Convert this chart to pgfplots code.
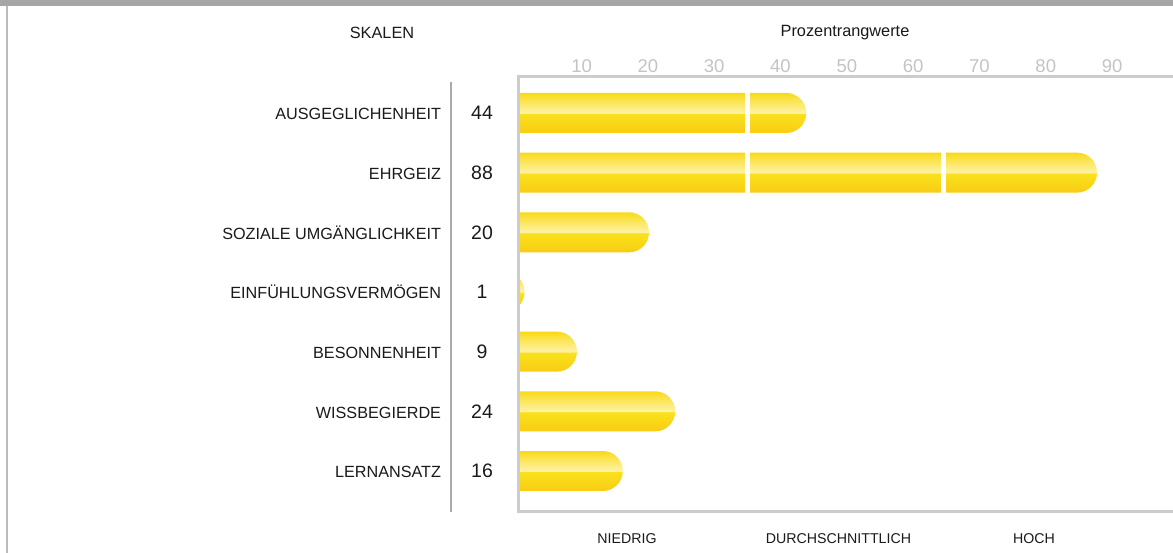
\documentclass[border=0pt]{standalone}
\usepackage{pgfplots}
\pgfplotsset{compat=1.18}
\usepackage{fontspec}
\setmainfont{Liberation Sans}
\definecolor{ytop}{HTML}{F9DA16}
\definecolor{yup}{HTML}{FBE65A}
\definecolor{ypale}{HTML}{FFF2A6}
\definecolor{ymid}{HTML}{F9E21C}
\definecolor{ybot}{HTML}{F9CC14}
\definecolor{axgray}{HTML}{CCCCCC}
\definecolor{tickgray}{HTML}{C4C4C4}
\definecolor{sepgray}{HTML}{AAAAAA}
\definecolor{topgray}{HTML}{A6A6A6}
\definecolor{bordergray}{HTML}{BBBBBB}
\definecolor{txt}{HTML}{1A1A1A}
\pgfdeclareverticalshading{barshade}{100bp}{color(0bp)=(ybot); color(25bp)=(ybot); color(49bp)=(ymid); color(50bp)=(ypale); color(64bp)=(yup); color(75bp)=(ytop); color(100bp)=(ytop)}
\newcommand\ylab[2]{\makebox[0pt][r]{\fontsize{16.2}{19}\selectfont #1\hspace*{41pt}}\makebox[0pt]{\fontsize{19.5}{22}\selectfont #2}}
\begin{document}
\begin{tikzpicture}
\useasboundingbox (0,0) rectangle (1173pt,553pt);
\fill[white] (0,0) rectangle (1173pt,553pt);
\begin{axis}[
  at={(518pt,41pt)}, anchor=south west,
  scale only axis, width=655pt, height=435pt,
  xmin=0, xmax=100, ymin=-0.603, ymax=6.687, y dir=reverse,
  axis line style={draw=none},
  major tick length=0pt,
  xticklabel pos=upper,
  xtick={9.7,19.825,29.95,40.075,50.2,60.325,70.45,80.575,90.7},
  xticklabels={10,20,30,40,50,60,70,80,90},
  xticklabel style={anchor=base, inner sep=0pt, yshift=4.5pt, font=\fontsize{18.5}{21}\selectfont, text=tickgray},
  ytick={0,1,2,3,4,5,6},
  yticklabels={{\ylab{AUSGEGLICHENHEIT}{44}},{\ylab{EHRGEIZ}{88}},{\ylab{SOZIALE UMGÄNGLICHKEIT}{20}},{\ylab{EINFÜHLUNGSVERMÖGEN}{1}},{\ylab{BESONNENHEIT}{9}},{\ylab{WISSBEGIERDE}{24}},{\ylab{LERNANSATZ}{16}}},
  yticklabel style={anchor=center, xshift=-36pt, text=txt},
  /pgf/number format/assume math mode=true,
]
\pgfplotsset{barsty/.style={draw=none, shading=barshade, rounded corners=20pt}}
\addplot[barsty] coordinates {(-6,-0.335) (44,-0.335) (44,0.335) (-6,0.335)} --cycle;
\addplot[barsty] coordinates {(-6,0.665) (88.4,0.665) (88.4,1.335) (-6,1.335)} --cycle;
\addplot[barsty] coordinates {(-6,1.665) (20,1.665) (20,2.335) (-6,2.335)} --cycle;
\addplot[barsty] coordinates {(-6,2.665) (1,2.665) (1,3.335) (-6,3.335)} --cycle;
\addplot[barsty] coordinates {(-6,3.665) (9,3.665) (9,4.335) (-6,4.335)} --cycle;
\addplot[barsty] coordinates {(-6,4.665) (24,4.665) (24,5.335) (-6,5.335)} --cycle;
\addplot[barsty] coordinates {(-6,5.665) (16,5.665) (16,6.335) (-6,6.335)} --cycle;
\draw[white, line width=5pt] (axis cs:35,-0.4) -- (axis cs:35,0.4);
\draw[white, line width=5pt] (axis cs:35,0.6) -- (axis cs:35,1.4);
\draw[white, line width=5pt] (axis cs:65,0.6) -- (axis cs:65,1.4);
\end{axis}
\fill[topgray] (0,547pt) rectangle (1173pt,553pt);
\draw[bordergray, line width=2pt] (7pt,0) -- (7pt,547pt);
\draw[sepgray, line width=2pt] (451pt,41pt) -- (451pt,471pt);
\draw[axgray, line width=3pt] (518pt,39.5pt) -- (518pt,477.5pt);
\draw[axgray, line width=3pt] (516.5pt,476pt) -- (1173pt,476pt);
\draw[axgray, line width=3pt] (516.5pt,41pt) -- (1173pt,41pt);
\node[text=txt, font=\fontsize{16.3}{19}\selectfont] at (382pt,520pt) {SKALEN};
\node[text=txt, font=\fontsize{16.3}{19}\selectfont] at (845pt,520pt) {Prozentrangwerte};
\node[text=txt, font=\fontsize{14.2}{17}\selectfont] at (627pt,14pt) {NIEDRIG};
\node[text=txt, font=\fontsize{14.2}{17}\selectfont] at (838.5pt,14pt) {DURCHSCHNITTLICH};
\node[text=txt, font=\fontsize{14.2}{17}\selectfont] at (1034pt,14pt) {HOCH};
\end{tikzpicture}
\end{document}
